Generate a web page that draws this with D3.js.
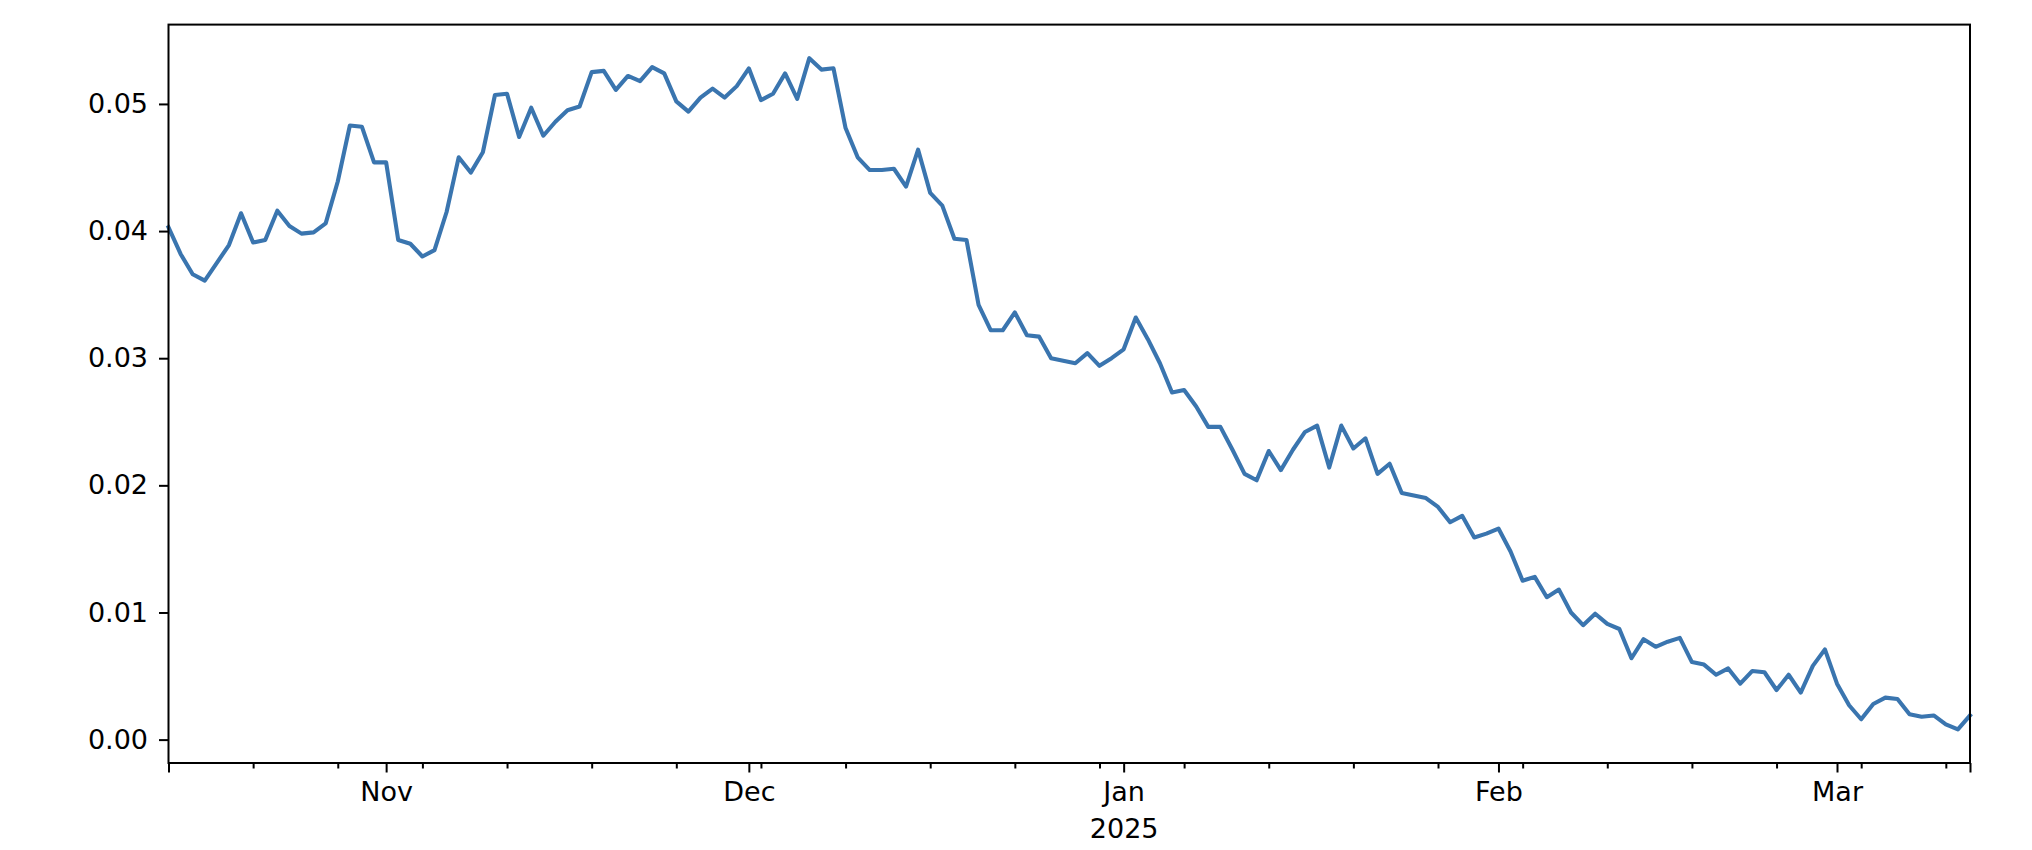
<!DOCTYPE html>
<html>
<head>
<meta charset="utf-8">
<script src="https://cdn.jsdelivr.net/npm/d3@7/dist/d3.min.js"></script>
<style>
  html, body { margin: 0; padding: 0; background: #ffffff; }
  svg { display: block; }
  text { font-family: "DejaVu Sans", sans-serif; fill: #000; }
</style>
</head>
<body>
<svg id="chart" width="2032" height="850"></svg>
<script>
// ---- data ----
const startDate = "2024-10-14";
const endDate = "2025-03-12";
const values = [
  0.0403, 0.0382, 0.0366, 0.0361, 0.0375, 0.0389, 0.0414, 0.0391, 0.0393, 0.0416,
  0.0404, 0.0398, 0.0399, 0.0406, 0.0439, 0.0483, 0.0482, 0.0454, 0.0454, 0.0393,
  0.0390, 0.0380, 0.0385, 0.0415, 0.0458, 0.0446, 0.0462, 0.0507, 0.0508, 0.0474,
  0.0497, 0.0475, 0.0486, 0.0495, 0.0498, 0.0525, 0.0526, 0.0511, 0.0522, 0.0518,
  0.0529, 0.0524, 0.0502, 0.0494, 0.0505, 0.0512, 0.0505, 0.0514, 0.0528, 0.0503,
  0.0508, 0.0524, 0.0504, 0.0536, 0.0527, 0.0528, 0.0481, 0.0458, 0.0448, 0.0448,
  0.0449, 0.0435, 0.0464, 0.0430, 0.0420, 0.0394, 0.0393, 0.0342, 0.0322, 0.0322,
  0.0336, 0.0318, 0.0317, 0.0300, 0.0298, 0.0296, 0.0304, 0.0294, 0.0300, 0.0307,
  0.0332, 0.0315, 0.0296, 0.0273, 0.0275, 0.0262, 0.0246, 0.0246, 0.0228, 0.0209,
  0.0204, 0.0227, 0.0212, 0.0228, 0.0242, 0.0247, 0.0214, 0.0247, 0.0229, 0.0237,
  0.0209, 0.0217, 0.0194, 0.0192, 0.0190, 0.0183, 0.0171, 0.0176, 0.0159, 0.0162,
  0.0166, 0.0148, 0.0125, 0.0128, 0.0112, 0.0118, 0.0100, 0.0090, 0.0099, 0.0091,
  0.0087, 0.0064, 0.0079, 0.0073, 0.0077, 0.0080, 0.0061, 0.0059, 0.0051, 0.0056,
  0.0044, 0.0054, 0.0053, 0.0039, 0.0051, 0.0037, 0.0058, 0.0071, 0.0044, 0.0027,
  0.0016, 0.0028, 0.0033, 0.0032, 0.0020, 0.0018, 0.0019, 0.0012, 0.0008, 0.0019
];
const yTicks = [0.00, 0.01, 0.02, 0.03, 0.04, 0.05];
const yTickLabels = ["0.00", "0.01", "0.02", "0.03", "0.04", "0.05"];
const monthTicks = ["2024-11-01", "2024-12-01", "2025-01-01", "2025-02-01", "2025-03-01"];
const monthLabels = ["Nov", "Dec", "Jan\n2025", "Feb", "Mar"];

// ---- layout ----
const W = 2032, H = 850;
const m = { left: 168.5, right: 2032 - 1970, top: 24.6, bottom: 850 - 763 };
const iw = W - m.left - m.right, ih = H - m.top - m.bottom;

const parse = d3.utcParse("%Y-%m-%d");
const t0 = parse(startDate), t1 = parse(endDate);
const dates = d3.utcDay.range(t0, d3.utcDay.offset(t1, 1));
const data = dates.map((d, i) => ({ date: d, value: values[i] }));

const svg = d3.select("#chart");
svg.append("rect").attr("width", W).attr("height", H).attr("fill", "#fff");
const g = svg.append("g").attr("transform", `translate(${m.left},${m.top})`);

const x = d3.scaleUtc().domain([t0, t1]).range([0, iw]);
const [ymin, ymax] = d3.extent(values);
const pad = (ymax - ymin) * 0.05;
const y = d3.scaleLinear().domain([ymin - pad, ymax + pad]).range([ih, 0]);

const FS = 27;
const majorLen = 9.5, minorLen = 5.5;

// line
g.append("path")
  .datum(data)
  .attr("fill", "none")
  .attr("stroke", "#3a75af")
  .attr("stroke-width", 4.1)
  .attr("stroke-linejoin", "round")
  .attr("stroke-linecap", "square")
  .attr("d", d3.line().x(d => x(d.date)).y(d => y(d.value)));

// y axis
const yAxis = d3.axisLeft(y)
  .tickValues(yTicks)
  .tickFormat((d, i) => yTickLabels[i])
  .tickSize(majorLen)
  .tickPadding(11);
const ya = g.append("g").call(yAxis);
ya.select(".domain").remove();
ya.selectAll(".tick line").attr("stroke", "#000").attr("stroke-width", 2);
ya.selectAll(".tick text").attr("font-size", FS).attr("font-family", "DejaVu Sans").attr("fill", "#000");

// x minor ticks (weekly, Mondays) + range ends
const minorTicks = d3.utcMonday.range(t0, d3.utcDay.offset(t1, 1));
const xMinor = d3.axisBottom(x).tickValues(minorTicks).tickSize(minorLen).tickFormat("");
const xm = g.append("g").attr("transform", `translate(0,${ih})`).call(xMinor);
xm.select(".domain").remove();
xm.selectAll(".tick line").attr("stroke", "#000").attr("stroke-width", 2);

const xEnds = d3.axisBottom(x).tickValues([t0, t1]).tickSize(majorLen).tickFormat("");
const xe = g.append("g").attr("transform", `translate(0,${ih})`).call(xEnds);
xe.select(".domain").remove();
xe.selectAll(".tick line").attr("stroke", "#000").attr("stroke-width", 2);

// x major ticks (months)
const majorDates = monthTicks.map(parse);
const xMajor = d3.axisBottom(x)
  .tickValues(majorDates)
  .tickFormat((d, i) => monthLabels[i])
  .tickSize(majorLen)
  .tickPadding(9);
const xa = g.append("g").attr("transform", `translate(0,${ih})`).call(xMajor);
xa.select(".domain").remove();
xa.selectAll(".tick line").attr("stroke", "#000").attr("stroke-width", 2);
xa.selectAll(".tick text")
  .attr("font-size", FS).attr("font-family", "DejaVu Sans").attr("fill", "#000")
  .each(function(d, i) {
    const lines = monthLabels[i].split("\n");
    const t = d3.select(this);
    const yy = t.attr("y");
    t.text(null);
    lines.forEach((ln, k) => {
      t.append("tspan").attr("x", 0).attr("y", yy).attr("dy", (0.71 + k * 1.4) + "em").text(ln);
    });
  });

// frame
g.append("rect")
  .attr("x", 0).attr("y", 0).attr("width", iw).attr("height", ih)
  .attr("fill", "none").attr("stroke", "#000").attr("stroke-width", 2);
</script>
</body>
</html>
